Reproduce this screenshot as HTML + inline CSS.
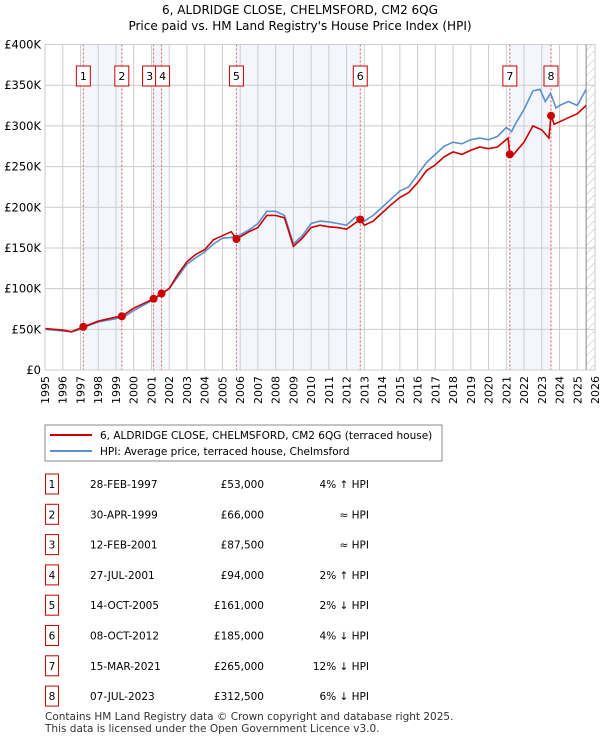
<!DOCTYPE html>
<html><head><meta charset="utf-8">
<style>
body{margin:0;background:#fff;font-family:"Liberation Sans","DejaVu Sans",sans-serif;}
svg text{font-family:"DejaVu Sans","Liberation Sans",sans-serif;}
</style></head>
<body>
<svg id="c" width="600" height="740" xmlns="http://www.w3.org/2000/svg">
<defs><pattern id="hatch" width="6" height="6" patternUnits="userSpaceOnUse" patternTransform="rotate(45)"><line x1="0" y1="0" x2="0" y2="6" stroke="#bbb" stroke-width="1"/></pattern></defs>
<text x="300" y="14" text-anchor="middle" font-size="12">6, ALDRIDGE CLOSE, CHELMSFORD, CM2 6QG</text>
<text x="300" y="30" text-anchor="middle" font-size="12">Price paid vs. HM Land Registry's House Price Index (HPI)</text>
<g id="plot"></g>
<g>
<rect x="45" y="425" width="397" height="36" fill="#fff" stroke="#888"/>
<line x1="50" y1="435" x2="92" y2="435" stroke="#cc0000" stroke-width="2"/>
<text x="100" y="439" font-size="10.5">6, ALDRIDGE CLOSE, CHELMSFORD, CM2 6QG (terraced house)</text>
<line x1="50" y1="451" x2="92" y2="451" stroke="#5b8fd0" stroke-width="2"/>
<text x="100" y="455" font-size="10.5">HPI: Average price, terraced house, Chelmsford</text>
</g>
<g id="table"></g>
<text x="45" y="720" font-size="10.5" fill="#333">Contains HM Land Registry data © Crown copyright and database right 2025.</text>
<text x="45" y="732" font-size="10.5" fill="#333">This data is licensed under the Open Government Licence v3.0.</text>
</svg>
<script>
const hpiYears=[1995,1996,1996.5,1997,1997.5,1998,1999,1999.5,2000,2001,2001.5,2002,2002.5,2003,2003.5,2004,2004.5,2005,2005.5,2006,2006.5,2007,2007.5,2008,2008.5,2009,2009.5,2010,2010.5,2011,2011.5,2012,2012.5,2013,2013.5,2014,2014.5,2015,2015.5,2016,2016.5,2017,2017.5,2018,2018.5,2019,2019.5,2020,2020.5,2021,2021.3,2021.5,2022,2022.5,2022.9,2023.2,2023.5,2023.8,2024,2024.5,2025,2025.5];
const hpiValues=[50,48,47,50,55,59,63,66,73,85,92,100,115,130,138,145,155,162,163,166,172,180,195,195,190,155,165,180,183,182,180,178,188,183,190,200,210,220,225,240,255,265,275,280,278,283,285,283,287,298,293,302,320,343,345,330,340,322,325,330,325,345];
const ppYears=[1995,1996,1996.5,1997.16,1998,1999,1999.33,2000,2001.12,2001.57,2002,2002.5,2003,2003.5,2004,2004.5,2005,2005.5,2005.79,2006.5,2007,2007.5,2008,2008.5,2009,2009.5,2010,2010.5,2011,2011.5,2012,2012.77,2013,2013.5,2014,2014.5,2015,2015.5,2016,2016.5,2017,2017.5,2018,2018.5,2019,2019.5,2020,2020.5,2021.1,2021.2,2021.3,2022,2022.5,2023,2023.4,2023.52,2023.7,2024,2024.5,2025,2025.5];
const ppValues=[51,49,47,53,60,65,66,76,87.5,94,100,118,133,142,148,160,165,170,161,170,175,190,190,187,152,162,175,178,176,175,173,185,178,183,193,203,212,218,230,245,252,262,268,265,270,274,272,274,285,265,262,280,300,295,285,312.5,302,305,310,315,325];
const saleLabels=["1","2","3","4","5","6","7","8"];
const saleYears=[1997.16,1999.33,2001.12,2001.57,2005.79,2012.77,2021.2,2023.52];
const salePrices=[53,66,87.5,94,161,185,265,312.5];
const saleDates=["28-FEB-1997","30-APR-1999","12-FEB-2001","27-JUL-2001","14-OCT-2005","08-OCT-2012","15-MAR-2021","07-JUL-2023"];
const salePriceText=["£53,000","£66,000","£87,500","£94,000","£161,000","£185,000","£265,000","£312,500"];
const saleHpiText=["4% ↑ HPI","≈ HPI","≈ HPI","2% ↑ HPI","2% ↓ HPI","4% ↓ HPI","12% ↓ HPI","6% ↓ HPI"];
const yTicks=[0,50,100,150,200,250,300,350,400];
const yTickLabels=["£0","£50K","£100K","£150K","£200K","£250K","£300K","£350K","£400K"];
const xTicks=[1995,1996,1997,1998,1999,2000,2001,2002,2003,2004,2005,2006,2007,2008,2009,2010,2011,2012,2013,2014,2015,2016,2017,2018,2019,2020,2021,2022,2023,2024,2025,2026];

const NS="http://www.w3.org/2000/svg";
const L=45,R=595,T=44.5,B=370;
const X=y=>L+(y-1995)/(2026-1995)*(R-L);
const Y=v=>B-v/400*(B-T);
function mk(tag,attrs,parent){const e=document.createElementNS(NS,tag);for(const k in attrs)e.setAttribute(k,attrs[k]);parent.appendChild(e);return e;}
const plot=document.getElementById('plot');
// shaded bands
for(let i=0;i<saleYears.length;i+=2){
  const r=mk('rect',{x:X(saleYears[i]),y:T,width:X(saleYears[i+1])-X(saleYears[i]),height:B-T,fill:'#eef3fc',opacity:0.7},plot);
  
  
}
// hatch future
const h=mk('rect',{x:X(2025.5),y:T,width:R-X(2025.5),height:B-T,fill:'url(#hatch)'},plot);


// grid
xTicks.forEach(t=>{
  const g=mk('line',{x1:X(t),x2:X(t),y1:T,y2:B,stroke:'#ccc','stroke-width':1},plot);
  
  
  const tx=mk('text',{x:0,y:0,'font-size':11,'text-anchor':'end',transform:`translate(${X(t)+4},${B+6}) rotate(-90)`},plot);
  tx.textContent=t;
  
  
});
yTicks.forEach((t,i)=>{
  const g=mk('line',{x1:L,x2:R,y1:Y(t),y2:Y(t),stroke:'#ccc','stroke-width':1},plot);
  
  
  const tx=mk('text',{x:L-4,y:Y(t)+4,'font-size':11.5,'text-anchor':'end'},plot);
  tx.textContent=yTickLabels[i];
  
  
});
const vl=mk('line',{x1:X(2025.5),x2:X(2025.5),y1:T,y2:B,stroke:'#888','stroke-width':1},plot);


// sale lines and labels
saleYears.forEach((s,i)=>{
  const l=mk('line',{x1:X(s),x2:X(s),y1:T,y2:B,stroke:'#e05555','stroke-width':1,'stroke-dasharray':'2,2'},plot);
  
  
});
saleYears.forEach((s,i)=>{
  let cx=X(s);
  if(i===2)cx-=4; if(i===3)cx+=1;
  const b=mk('rect',{x:cx-7,y:66,width:14,height:20,fill:'#fff',stroke:'#cc0000'},plot);
  
  
  const t=mk('text',{x:cx,y:80,'font-size':11,'text-anchor':'middle'},plot);
  t.textContent=saleLabels[i];
  
  
});
const path=(xs,vs)=>xs.map((x,i)=>(i?'L':'M')+X(x).toFixed(1)+','+Y(vs[i]).toFixed(1)).join('');
const hp=mk('path',{d:path(hpiYears,hpiValues),fill:'none',stroke:'#5b8fd0','stroke-width':1.6},plot);


const pp=mk('path',{d:path(ppYears,ppValues),fill:'none',stroke:'#cc0000','stroke-width':1.6},plot);


saleYears.forEach((s,i)=>{
  const c=mk('circle',{cx:X(s),cy:Y(salePrices[i]),r:4,fill:'#cc0000'},plot);
  
  
});
mk('rect',{x:L,y:T,width:R-L,height:B-T,fill:'none',stroke:'#ccc'},plot);
// table
const tb=document.getElementById('table');
saleLabels.forEach((lab,i)=>{
  const cy=484+i*30.3;
  const b=mk('rect',{x:45.5,y:cy-10,width:13,height:20,fill:'#fff',stroke:'#cc0000'},tb);
  
  
  const cells=[[52,'middle',lab],[90,'start',saleDates[i]],[264,'end',salePriceText[i]],[369,'end',saleHpiText[i]]];
  cells.forEach(c=>{
    const t=mk('text',{x:c[0],y:cy+4,'font-size':10.5,'text-anchor':c[1]},tb);
    t.textContent=c[2];
    
    
  });
});
</script>
</body></html>
